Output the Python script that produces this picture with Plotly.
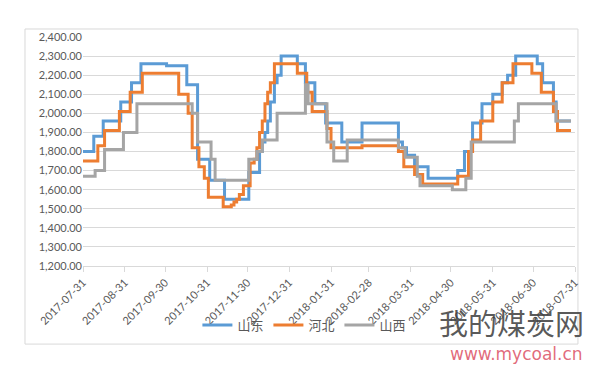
import plotly.graph_objects as go

# 山东 (change dates and new values)
sd_dates = ["2017-07-31", "2017-08-08", "2017-08-15", "2017-08-28", "2017-09-05", "2017-09-12",
            "2017-10-01", "2017-10-16", "2017-10-24", "2017-11-02", "2017-11-13", "2017-12-01",
            "2017-12-09", "2017-12-11", "2017-12-13", "2017-12-15", "2017-12-17", "2017-12-20",
            "2017-12-22", "2017-12-25", "2018-01-06", "2018-01-12", "2018-01-19", "2018-01-27",
            "2018-02-08", "2018-02-23", "2018-03-22", "2018-03-25", "2018-03-28", "2018-04-03",
            "2018-04-13", "2018-05-05", "2018-05-10", "2018-05-16", "2018-05-23", "2018-05-31",
            "2018-06-07", "2018-06-11", "2018-06-17", "2018-07-03", "2018-07-07", "2018-07-15",
            "2018-07-17", "2018-07-28"]
sd_values = [1800, 1880, 1960, 2060, 2160, 2260,
             2250, 2150, 1760, 1650, 1550, 1690,
             1800, 1850, 1900, 1960, 2060, 2160,
             2200, 2300, 2260, 2160, 2050, 1950,
             1850, 1950, 1850, 1820, 1780, 1720,
             1660, 1700, 1800, 1950, 2050, 2100,
             2160, 2200, 2300, 2260, 2160, 2060,
             1960, 1960]

# 河北
hb_dates = ["2017-07-31", "2017-08-11", "2017-08-16", "2017-08-27", "2017-09-04", "2017-09-13",
            "2017-10-10", "2017-10-17", "2017-10-20", "2017-10-25", "2017-10-29", "2017-11-01",
            "2017-11-12", "2017-11-18", "2017-11-20", "2017-11-22", "2017-11-24", "2017-11-27",
            "2017-12-02", "2017-12-05", "2017-12-07", "2017-12-09", "2017-12-11", "2017-12-13",
            "2017-12-15", "2017-12-17", "2017-12-20", "2018-01-06", "2018-01-13", "2018-01-17",
            "2018-01-28", "2018-01-31", "2018-02-23", "2018-03-22", "2018-03-26", "2018-04-03",
            "2018-04-09", "2018-05-05", "2018-05-13", "2018-05-16", "2018-05-22", "2018-05-31",
            "2018-06-07", "2018-06-15", "2018-06-29", "2018-07-06", "2018-07-15", "2018-07-18",
            "2018-07-28"]
hb_values = [1750, 1830, 1910, 2010, 2110, 2210,
             2100, 2000, 1820, 1720, 1660, 1560,
             1510, 1520, 1535, 1550, 1575, 1620,
             1740, 1760, 1820, 1900, 1960, 2050,
             2110, 2160, 2260, 2210, 2110, 2010,
             1920, 1820, 1830, 1800, 1720, 1680,
             1630, 1670, 1800, 1860, 1960, 2060,
             2160, 2260, 2210, 2110, 2010, 1910,
             1910]

# 山西
sx_dates = ["2017-07-31", "2017-08-09", "2017-08-16", "2017-08-30", "2017-09-09", "2017-10-20",
            "2017-10-24", "2017-11-03", "2017-11-06", "2017-12-01", "2017-12-07", "2017-12-11",
            "2017-12-22", "2018-01-12", "2018-01-14", "2018-01-28", "2018-02-02", "2018-02-12",
            "2018-03-22", "2018-03-27", "2018-04-05", "2018-04-07", "2018-05-01", "2018-05-11",
            "2018-05-15", "2018-06-16", "2018-06-19", "2018-07-17", "2018-07-28"]
sx_values = [1670, 1700, 1810, 1900, 2050, 2000,
             1850, 1760, 1650, 1760, 1800, 1860,
             2000, 2150, 2050, 1850, 1750, 1860,
             1820, 1770, 1670, 1620, 1600, 1660,
             1850, 1960, 2050, 1960, 1960]

tick_dates = ["2017-07-31", "2017-08-31", "2017-09-30", "2017-10-31", "2017-11-30", "2017-12-31",
              "2018-01-31", "2018-02-28", "2018-03-31", "2018-04-30", "2018-05-31", "2018-06-30",
              "2018-07-31"]

series = [("山东", sd_dates, sd_values, "#5B9BD5"),
          ("河北", hb_dates, hb_values, "#ED7D31"),
          ("山西", sx_dates, sx_values, "#A5A5A5")]

fig = go.Figure()
for name, d, v, c in series:
    fig.add_trace(go.Scatter(x=d, y=v, name=name, mode="lines", line_shape="hv",
                             line=dict(color=c, width=3)))

grid = "#D9D9D9"
fig.update_layout(
    width=604, height=369,
    margin=dict(l=75, r=37, t=29, b=111, autoexpand=False),
    paper_bgcolor="white", plot_bgcolor="white",
    font=dict(family="Lato, Noto Sans CJK SC", size=11, color="#595959"),
    showlegend=True,
    legend=dict(orientation="h", x=0.45, xanchor="center", y=-0.258, yanchor="middle",
                font=dict(family="Noto Sans CJK SC", size=13, color="#595959"),
                bgcolor="rgba(0,0,0,0)", itemwidth=30, tracegroupgap=0),
    xaxis=dict(type="date", range=["2017-07-31", "2018-07-31"], tickvals=tick_dates,
               ticktext=tick_dates, tickangle=-45, showgrid=False, zeroline=False,
               showline=True, linecolor=grid, linewidth=1, ticks="outside", ticklen=5,
               tickcolor=grid, tickfont=dict(size=11, color="#595959"), automargin=False),
    yaxis=dict(range=[1200, 2400], dtick=100, tickformat=",.2f", showgrid=True,
               gridcolor=grid, gridwidth=1, zeroline=False, showline=False, ticks="",
               tickfont=dict(size=11, color="#595959"), automargin=False),
    shapes=[dict(type="rect", xref="paper", yref="paper", x0=-0.1179, x1=1.006,
                 y0=-0.341, y1=1.035, line=dict(color=grid, width=1), layer="below")],
    annotations=[
        dict(text="我的煤炭网", xref="paper", yref="paper", x=1.022, y=-0.245,
             xanchor="right", yanchor="middle", showarrow=False,
             font=dict(family="Noto Sans CJK SC", size=29, color="rgba(60,60,60,0.85)")),
        dict(text="www.mycoal.cn", xref="paper", yref="paper", x=1.02, y=-0.385,
             xanchor="right", yanchor="middle", showarrow=False,
             font=dict(family="DejaVu Sans", size=17, color="rgba(220,80,100,0.85)")),
    ],
)

fig.write_html("out.html")
